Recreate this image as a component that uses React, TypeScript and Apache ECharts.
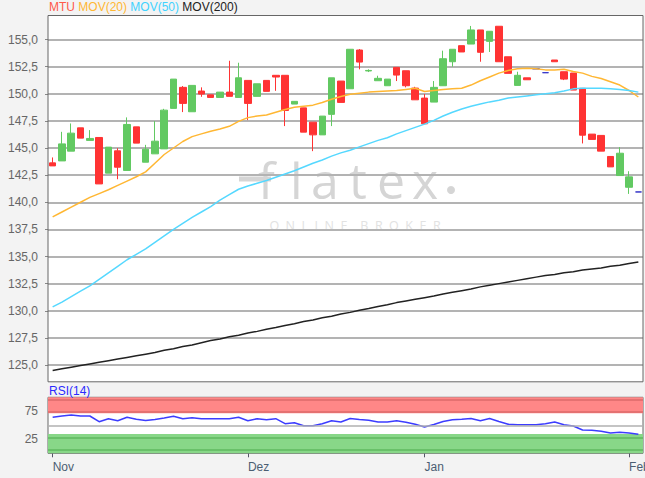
import React, { useEffect, useRef } from "react";
import * as echarts from "echarts";

// ---------- data ----------
const dates: string[] = [
  "2017-11-02", "2017-11-03", "2017-11-06", "2017-11-07", "2017-11-08", "2017-11-09", "2017-11-10",
  "2017-11-13", "2017-11-14", "2017-11-15", "2017-11-16", "2017-11-17", "2017-11-20", "2017-11-21",
  "2017-11-22", "2017-11-23", "2017-11-24", "2017-11-27", "2017-11-28", "2017-11-29", "2017-11-30",
  "2017-12-01", "2017-12-04", "2017-12-05", "2017-12-06", "2017-12-07", "2017-12-08", "2017-12-11",
  "2017-12-12", "2017-12-13", "2017-12-14", "2017-12-15", "2017-12-18", "2017-12-19", "2017-12-20",
  "2017-12-21", "2017-12-22", "2017-12-27", "2017-12-28", "2017-12-29",
  "2018-01-02", "2018-01-03", "2018-01-04", "2018-01-05", "2018-01-08", "2018-01-09", "2018-01-10",
  "2018-01-11", "2018-01-12", "2018-01-15", "2018-01-16", "2018-01-17", "2018-01-18", "2018-01-19",
  "2018-01-22", "2018-01-23", "2018-01-24", "2018-01-25", "2018-01-26", "2018-01-29", "2018-01-30",
  "2018-01-31", "2018-02-01", "2018-02-02",
];

// [open, close, low, high]
const candles: number[][] = [
  [143.63, 143.35, 143.35, 144.13], [143.81, 145.38, 143.81, 146.49], [144.71, 146.37, 144.71, 147.26],
  [146.86, 145.91, 145.91, 146.86], [145.7, 145.88, 145.7, 146.65], [145.97, 141.69, 141.69, 145.97],
  [142.68, 145.08, 142.68, 145.08], [144.74, 143.23, 142.12, 144.98], [142.93, 147.17, 142.93, 147.82],
  [146.95, 145.45, 145.45, 146.95], [143.69, 144.89, 143.69, 145.29], [144.46, 145.63, 144.46, 147.48],
  [144.92, 148.49, 144.92, 148.61], [148.65, 151.35, 148.65, 151.35], [150.59, 149.11, 148.31, 150.71],
  [148.34, 150.77, 148.34, 150.77], [150.25, 149.97, 149.72, 150.59], [149.9, 149.66, 149.66, 149.9],
  [149.66, 150.15, 149.66, 150.15], [150.15, 149.76, 149.76, 153.04], [149.66, 151.47, 149.66, 152.86],
  [151.23, 149.11, 147.57, 151.23], [149.76, 150.92, 149.76, 150.92], [151.23, 150.22, 150.22, 151.23],
  [151.7, 151.54, 150.27, 151.7], [151.7, 148.46, 147.02, 151.7], [149.05, 149.3, 149.05, 149.3],
  [148.7, 146.46, 146.46, 148.7], [147.38, 146.21, 144.71, 147.38], [146.21, 147.94, 146.21, 147.94],
  [148.1, 151.47, 147.02, 151.47], [151.17, 149.2, 149.2, 151.17], [150.46, 154.1, 150.46, 154.1],
  [154.03, 152.92, 152.25, 154.12], [152.1, 152.15, 152.0, 152.25], [151.2, 151.42, 151.2, 151.66],
  [150.74, 151.35, 150.74, 151.35], [152.43, 151.72, 151.17, 152.43], [152.12, 150.74, 150.59, 152.12],
  [150.52, 149.44, 149.44, 150.64], [149.6, 147.23, 147.23, 149.97], [149.23, 150.59, 149.23, 151.17],
  [150.74, 153.23, 150.74, 153.97], [152.95, 154.1, 152.49, 154.1], [154.43, 153.85, 153.85, 154.43],
  [154.58, 155.88, 154.58, 156.25], [155.88, 153.82, 152.95, 155.88], [154.83, 155.76, 153.85, 155.76],
  [156.22, 152.95, 152.95, 156.22], [153.41, 151.88, 151.88, 153.41], [150.77, 151.7, 150.77, 152.03],
  [151.47, 151.29, 151.29, 151.47], [152.3, 152.3, 152.3, 152.3], [151.94, 151.94, 151.94, 151.94],
  [153.11, 152.95, 152.95, 153.11], [152.03, 151.35, 151.26, 152.03], [151.91, 150.34, 150.34, 151.91],
  [150.5, 146.18, 145.42, 150.5], [146.28, 145.79, 145.79, 146.28], [146.16, 144.71, 144.71, 146.16],
  [144.22, 143.26, 143.26, 144.22], [142.46, 144.52, 142.46, 145.08], [141.38, 142.34, 140.77, 142.86],
  [140.95, 140.95, 140.95, 140.95],
];

const ma20: number[] = [
  138.65, 139.1, 139.55, 140.0, 140.45, 140.8, 141.15, 141.55, 141.95, 142.35,
  142.8, 143.6, 144.4, 145.0, 145.6, 146.05, 146.3, 146.55, 146.75, 147.0,
  147.45, 147.8, 147.95, 148.05, 148.3, 148.55, 148.75, 148.85, 148.95, 149.2,
  149.5, 149.75, 149.95, 150.05, 150.15, 150.2, 150.25, 150.3, 150.4, 150.5,
  150.2, 150.3, 150.4, 150.45, 150.5, 150.8, 151.2, 151.55, 151.9, 152.15,
  152.3, 152.35, 152.3, 152.2, 152.2, 152.25, 152.05, 151.9, 151.6, 151.4,
  151.1, 150.8, 150.3, 149.7,
];

const ma50: number[] = [
  130.35, 130.8, 131.3, 131.8, 132.3, 132.9, 133.5, 134.1, 134.7, 135.2,
  135.7, 136.3, 136.9, 137.5, 138.05, 138.6, 139.1, 139.6, 140.2, 140.7,
  141.2, 141.5, 141.75, 142.0, 142.3, 142.6, 142.9, 143.25, 143.6, 143.9,
  144.25, 144.55, 144.8, 145.1, 145.4, 145.7, 145.95, 146.3, 146.6, 146.9,
  147.2, 147.55, 147.95, 148.3, 148.6, 148.85, 149.05, 149.25, 149.4, 149.6,
  149.7, 149.8, 149.9, 150.0, 150.1, 150.25, 150.45, 150.5, 150.5, 150.5,
  150.45, 150.4, 150.3, 150.15,
];

const ma200: number[] = [
  124.5, 124.65, 124.8, 124.95, 125.1, 125.25, 125.4, 125.55, 125.7, 125.85,
  126.0, 126.15, 126.35, 126.5, 126.7, 126.85, 127.05, 127.25, 127.4, 127.6,
  127.75, 127.95, 128.1, 128.3, 128.45, 128.65, 128.8, 129.0, 129.15, 129.35,
  129.5, 129.7, 129.85, 130.05, 130.2, 130.4, 130.55, 130.75, 130.9, 131.05,
  131.2, 131.35, 131.55, 131.7, 131.85, 132.0, 132.2, 132.35, 132.5, 132.65,
  132.8, 132.95, 133.1, 133.25, 133.35, 133.5, 133.6, 133.75, 133.85, 133.95,
  134.1, 134.2, 134.35, 134.5,
];

const rsi14: number[] = [
  64.3, 66.6, 68.4, 66.6, 66.6, 56.4, 61.8, 58.2, 64.3, 60.7,
  58.6, 60.4, 63.0, 66.1, 61.8, 63.6, 61.8, 61.8, 61.8, 61.8,
  64.3, 58.2, 61.8, 60.0, 61.8, 52.9, 54.6, 49.3, 49.3, 52.9,
  58.2, 55.9, 62.1, 60.4, 58.9, 55.9, 55.9, 58.0, 55.4, 51.8,
  47.0, 51.4, 56.8, 59.8, 60.7, 62.1, 58.2, 62.1, 56.8, 51.8,
  51.1, 51.1, 51.1, 52.9, 55.9, 51.1, 48.8, 41.6, 41.1, 39.3,
  36.3, 37.5, 36.3, 33.9,
];

const monthNames: string[] = ["Jan", "Feb", "Mär", "Apr", "Mai", "Jun", "Jul", "Aug", "Sep", "Okt", "Nov", "Dez"];
const legendNames: string[] = ["MTU", "MOV(20)", "MOV(50)", "MOV(200)"];

// ---------- styles ----------
const FONT = "'Liberation Sans', Arial, sans-serif";
const WM_FONT = "50px 'Open Sans', sans-serif";
const WM = "#d5d5d5";
const BG = "#f3f3f3";
const UP = "#62c962";
const DOWN = "#ff3333";
const DOJI = "#3434c8";
const C20 = "#ffb733";
const C50 = "#55d8ff";
const C200 = "#222222";

const isMonthStart = (i: number) => i === 0 || dates[i].slice(0, 7) !== dates[i - 1].slice(0, 7);

export default function App() {
  const ref = useRef<HTMLDivElement>(null);

  useEffect(() => {
    if (!ref.current) return;
    const chart = echarts.init(ref.current, undefined, { renderer: "svg" });

    const candleData = candles.map(([o, c, l, h]) => {
      const v = [o, c, l, h];
      if (o === c) {
        return {
          value: v,
          itemStyle: { color: DOJI, color0: DOJI, borderColor: DOJI, borderColor0: DOJI, borderColorDoji: DOJI },
        };
      }
      return v;
    });

    const option: any = {
      animation: false,
      backgroundColor: BG,
      textStyle: { fontFamily: FONT },
      grid: [
        {
          left: 48, top: 12.375, width: 595, height: 379.75, show: true, backgroundColor: "#fff", borderWidth: 0,
          containLabel: false, outerBoundsMode: "none",
        },
        {
          left: 48, top: 397.3, width: 595, height: 56, show: true, backgroundColor: "#fff", borderColor: "#666", borderWidth: 1,
          containLabel: false, outerBoundsMode: "none",
        },
      ],
      xAxis: [
        {
          type: "category", gridIndex: 0, data: dates, boundaryGap: true,
          axisLine: { show: false }, axisTick: { show: false }, axisLabel: { show: false }, splitLine: { show: false },
        },
        {
          type: "category", gridIndex: 1, data: dates, boundaryGap: true,
          axisLine: { show: false },
          axisTick: { show: true, alignWithLabel: true, interval: (i: number) => isMonthStart(i), length: 4, lineStyle: { color: "#556" } },
          axisLabel: {
            interval: (i: number) => isMonthStart(i),
            formatter: (v: string) => monthNames[parseInt(v.slice(5, 7), 10) - 1],
            align: "left", color: "#4b5e72", fontSize: 12, margin: 8, fontFamily: FONT,
            hideOverlap: false,
          },
          splitLine: { show: false },
        },
      ],
      yAxis: [
        {
          type: "value", gridIndex: 0, min: 122.5, max: 157.5, interval: 2.5,
          axisLine: { show: false },
          axisTick: { show: true, length: 3, lineStyle: { color: "#888" } },
          axisLabel: {
            formatter: (v: number) => (v < 124 || v > 156 ? "" : v.toFixed(1).replace(".", ",")),
            color: "#666", fontSize: 12, margin: 10, fontFamily: FONT,
          },
          splitLine: { show: true, lineStyle: { color: "#b3b3b3", width: 2 } },
        },
        {
          type: "value", gridIndex: 1, min: 0, max: 100, interval: 25,
          axisLine: { show: false }, axisTick: { show: false },
          axisLabel: {
            formatter: (v: number) => (v === 25 || v === 75 ? String(v) : ""),
            color: "#666", fontSize: 12, margin: 10, fontFamily: FONT,
          },
          splitLine: { show: false },
        },
      ],
      series: [
        {
          type: "candlestick", name: legendNames[0], xAxisIndex: 0, yAxisIndex: 0, data: candleData, barWidth: 7,
          itemStyle: { color: UP, color0: DOWN, borderColor: UP, borderColor0: DOWN, borderWidth: 1 },
          z: 2,
        },
        { type: "line", name: legendNames[1], xAxisIndex: 0, yAxisIndex: 0, data: ma20, symbol: "none", lineStyle: { color: C20, width: 1.5 }, z: 3 },
        { type: "line", name: legendNames[2], xAxisIndex: 0, yAxisIndex: 0, data: ma50, symbol: "none", lineStyle: { color: C50, width: 1.5 }, z: 3 },
        { type: "line", name: legendNames[3], xAxisIndex: 0, yAxisIndex: 0, data: ma200, symbol: "none", lineStyle: { color: C200, width: 1.5 }, z: 3 },
        {
          type: "line", name: "RSI(14)", xAxisIndex: 1, yAxisIndex: 1, data: rsi14, symbol: "none",
          lineStyle: { color: "#3c3cff", width: 1.5 }, z: 4,
          markArea: {
            silent: true,
            data: [
              [{ yAxis: 71.5, itemStyle: { color: "#ff8787" } }, { yAxis: 100 }],
              [{ yAxis: 0, itemStyle: { color: "#88d788" } }, { yAxis: 34.5 }],
            ],
          },
          markLine: {
            silent: true, symbol: ["none", "none"], label: { show: false },
            data: [
              { yAxis: 95.2, lineStyle: { color: "#dc6a6a", width: 1.5, type: "solid" } },
              { yAxis: 73.8, lineStyle: { color: "#dc6a6a", width: 1.5, type: "solid" } },
              { yAxis: 50, lineStyle: { color: "#b0b0b0", width: 1.5, type: "solid" } },
              { yAxis: 28.6, lineStyle: { color: "#5fb85f", width: 1.5, type: "solid" } },
              { yAxis: 5.9, lineStyle: { color: "#5fb85f", width: 1.5, type: "solid" } },
            ],
          },
        },
      ],
      graphic: [
        // watermark
        {
          type: "group", z: 1, silent: true,
          children: [
            { type: "rect", shape: { x: 239, y: 176.5, width: 32, height: 5 }, style: { fill: WM } },
            { type: "text", x: 258, y: 205, style: { text: "f", font: WM_FONT, fill: WM, textVerticalAlign: "bottom" } },
            { type: "text", x: 290, y: 205, style: { text: "l", font: WM_FONT, fill: WM, textVerticalAlign: "bottom" } },
            { type: "text", x: 311, y: 205, style: { text: "a", font: WM_FONT, fill: WM, textVerticalAlign: "bottom" } },
            { type: "text", x: 349, y: 205, style: { text: "t", font: WM_FONT, fill: WM, textVerticalAlign: "bottom" } },
            { type: "text", x: 377, y: 205, style: { text: "e", font: WM_FONT, fill: WM, textVerticalAlign: "bottom" } },
            { type: "text", x: 412, y: 205, style: { text: "x", font: WM_FONT, fill: WM, textVerticalAlign: "bottom" } },
            { type: "circle", shape: { cx: 451, cy: 190, r: 4 }, style: { fill: WM } },
            {
              type: "text", x: 355, y: 225,
              style: {
                text: "O  N  L  I  N  E    B  R  O  K  E  R", font: "12.5px 'Open Sans', sans-serif",
                fill: "#e2e2e2", textAlign: "center", textVerticalAlign: "middle",
              },
            },
          ],
        },
        // cover areas of the extended price grid
        { type: "rect", z: 100, silent: true, shape: { x: 38, y: 9, width: 607, height: 6.6 }, style: { fill: BG } },
        { type: "rect", z: 100, silent: true, shape: { x: 38, y: 382.3, width: 607, height: 12.5 }, style: { fill: BG } },
        // price frame
        { type: "rect", z: 101, silent: true, shape: { x: 48, y: 15.5, width: 595, height: 366.3 }, style: { fill: "none", stroke: "#666", lineWidth: 1 } },
        // legend
        {
          type: "text", z: 110, x: 49, y: 1,
          style: {
            text: `{a|${legendNames[0]}} {b|${legendNames[1]}} {c|${legendNames[2]}} {d|${legendNames[3]}}`,
            font: `12px ${FONT}`,
            rich: {
              a: { fill: "#ff5a4a", font: `12px ${FONT}` },
              b: { fill: "#ffb733", font: `12px ${FONT}` },
              c: { fill: "#3fd2ff", font: `12px ${FONT}` },
              d: { fill: "#222", font: `12px ${FONT}` },
            },
          },
        },
        { type: "text", z: 110, x: 49, y: 385, style: { text: "RSI(14)", font: `12px ${FONT}`, fill: "#2b2bff" } },
      ],
    };

    chart.setOption(option);
    return () => chart.dispose();
  }, []);

  return <div ref={ref} style={{ position: "fixed", left: 0, top: 0, width: 645, height: 478 }} />;
}
